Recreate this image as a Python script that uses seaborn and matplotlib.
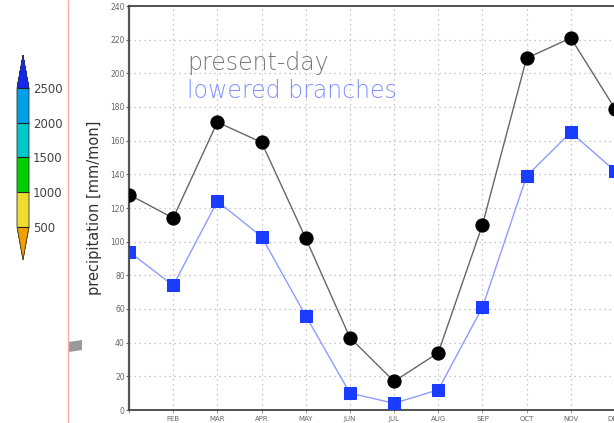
import numpy as np
import pandas as pd
import matplotlib
matplotlib.use("Agg")
import matplotlib.pyplot as plt
import matplotlib.colors as mcolors
from matplotlib.patches import Polygon
from matplotlib.lines import Line2D
import seaborn as sns

# Monthly precipitation [mm/mon]
months = ["JAN", "FEB", "MAR", "APR", "MAY", "JUN", "JUL", "AUG", "SEP", "OCT", "NOV", "DEC"]
present_day = [128, 114, 171, 159, 102, 43, 17, 34, 110, 209, 221, 179]
lowered_branches = [94, 74, 124, 103, 56, 10, 4, 12, 61, 139, 165, 142]

# Colour scale shown at the left
cbar_levels = [500, 1000, 1500, 2000, 2500]
cbar_colors = ["#f0a000", "#f0dc30", "#00d000", "#00c8c8", "#00a0e8", "#1428f0"]

y_ticks = list(range(0, 241, 20))

sns.set_theme(style="white")
plt.rcParams["font.family"] = ["DejaVu Sans"]

W, H = 614, 423
fig = plt.figure(figsize=(W / 100, H / 100), dpi=100)
fig.patch.set_facecolor("white")

def fx(px):
    return px / W

def fy(py):
    return 1 - py / H

# main axes
ax = fig.add_axes([fx(129), fy(410), fx(615) - fx(129), fy(6) - fy(410)])
idx = np.arange(len(months))
df = pd.DataFrame({"m": np.concatenate([idx, idx]),
                   "v": present_day + lowered_branches,
                   "s": ["present-day"] * 12 + ["lowered branches"] * 12})

sns.lineplot(data=df[df.s == "present-day"], x="m", y="v", ax=ax, color="#666666",
             lw=1.0, marker="o", markersize=9.5, markerfacecolor="black",
             markeredgecolor="black", legend=False, zorder=4)
sns.lineplot(data=df[df.s == "lowered branches"], x="m", y="v", ax=ax, color="#8c9cff",
             lw=1.0, marker="s", markersize=8.5, markerfacecolor="#1a3cff",
             markeredgecolor="#1a3cff", legend=False, zorder=3)

ax.set_xlim(0, 11)
ax.set_ylim(0, 240)
ax.set_xticks(idx)
ax.set_xticklabels([""] + months[1:])
ax.set_yticks(y_ticks)
ax.set_xlabel("")
ax.set_ylabel("precipitation [mm/mon]", fontsize=10.5, color="#333333", labelpad=6)
ax.tick_params(axis="y", labelsize=5.5, labelcolor="#666666", length=2, width=0.8,
               color="#666666", left=True, pad=1)
ax.tick_params(axis="x", labelsize=5, labelcolor="#666666", length=2, width=0.6,
               color="#888888", bottom=True, pad=2)
ax.grid(True, color="#b5b5b5", linestyle=(0, (1, 3)), linewidth=0.9)
for side in ["left"]:
    ax.spines[side].set_color("#555555")
    ax.spines[side].set_linewidth(1.6)
for side in ["top", "bottom"]:
    ax.spines[side].set_color("#444444")
    ax.spines[side].set_linewidth(1.3)
    ax.spines[side].set_linestyle((0, (3, 1)))
ax.spines["right"].set_visible(False)

ax.text(1.31, 202, "present-day", fontsize=17, color="#777777", va="baseline",
        fontweight="light")
ax.text(1.31, 185.5, "lowered branches", fontsize=17, color="#8090ff", va="baseline",
        fontweight="light")

# colour bar
cax = fig.add_axes([fx(17), fy(260), fx(29) - fx(17), fy(55) - fy(260)])
cmap = mcolors.ListedColormap(cbar_colors[1:-1])
cmap.set_under(cbar_colors[0])
cmap.set_over(cbar_colors[-1])
norm = mcolors.BoundaryNorm(cbar_levels, cmap.N)
sm = plt.cm.ScalarMappable(norm=norm, cmap=cmap)
cb = fig.colorbar(sm, cax=cax, extend="both", extendfrac=0.24, drawedges=True)
cb.outline.set_edgecolor("#333333")
cb.outline.set_linewidth(0.6)
cb.dividers.set_color("#222222")
cb.dividers.set_linewidth(0.8)
cb.set_ticks(cbar_levels)
cb.ax.tick_params(length=0, labelsize=8.5, labelcolor="#444444", pad=3)

# separator and small marker
fig.add_artist(Line2D([fx(68), fx(68)], [0, 1], color="#ffaaaa", lw=1.0))
fig.add_artist(Polygon([[fx(69), fy(342)], [fx(82), fy(340)], [fx(82), fy(350)],
                        [fx(69), fy(352)]], closed=True, facecolor="#999999",
                       edgecolor="none"))

fig.savefig("out.png", dpi=100)
